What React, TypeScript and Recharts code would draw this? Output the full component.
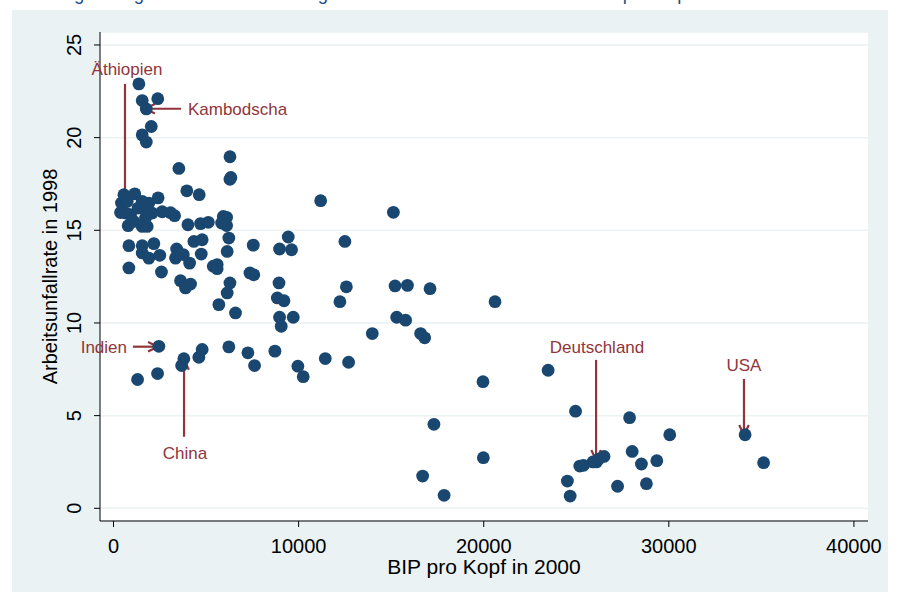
import React from "react";
import {
  ScatterChart,
  Scatter,
  XAxis,
  YAxis,
  CartesianGrid,
  ReferenceLine,
  ReferenceDot,
} from "recharts";

// BIP pro Kopf (2000) und Arbeitsunfallrate (1998)
const gdp = [
  1370, 2390, 1550, 1770, 2040, 1550, 1770, 3530, 6290, 6340, 6290, 3960, 4630,
  560, 1150, 430, 740, 380, 650, 920, 790, 1550, 1910, 1690, 2410, 1730, 1550,
  1820, 2630, 3080, 3300, 1330, 2090, 1100, 4020, 4700, 5120, 5930, 6110, 5840,
  6110, 9440, 830, 1550, 2180, 1550, 1910, 2500, 3410, 3480, 3770, 3350, 4340,
  4790, 4740, 6230, 6140, 7550, 8970, 9620, 830, 2590, 4110, 5390, 5600, 5600,
  7370, 7580, 3620, 4160, 3890, 6290, 6140, 8940, 8850, 9210, 5690, 6590, 8970,
  9710, 9060, 2450, 4790, 4610, 3800, 6230, 7260, 8720, 7620, 9960, 1300, 2380,
  3680, 11190, 15120, 12500, 12580, 12230, 15210, 15880, 17100, 20610, 15300,
  15780, 16590, 16810, 13980, 10250, 11440, 12700, 19960, 17310, 19980, 16700,
  17860, 23480, 24960, 27880, 30050, 34120, 28020, 35120, 26090, 25900, 26500,
  26200, 25190, 25390, 28520, 29350, 24520, 24670, 27230, 28790,
];
const rate = [
  22.9, 22.1, 22.0, 21.55, 20.6, 20.15, 19.76, 18.34, 18.97, 17.85, 17.75,
  17.13, 16.92, 16.92, 16.97, 16.47, 16.56, 15.96, 15.93, 15.84, 15.25, 16.56,
  16.47, 16.11, 16.75, 15.66, 15.21, 15.21, 16.0, 15.95, 15.79, 16.2, 15.93,
  15.48, 15.3, 15.36, 15.43, 15.75, 15.7, 15.39, 15.26, 14.64, 14.17, 14.17,
  14.28, 13.78, 13.5, 13.65, 13.99, 13.78, 13.69, 13.5, 14.4, 14.49, 13.72,
  14.58, 13.86, 14.2, 13.99, 13.95, 12.97, 12.75, 13.23, 13.06, 12.93, 13.15,
  12.7, 12.6, 12.28, 12.1, 11.89, 12.16, 11.62, 12.16, 11.35, 11.2, 10.99,
  10.54, 10.31, 10.31, 9.82, 8.74, 8.57, 8.15, 8.07, 8.71, 8.39, 8.48, 7.7,
  7.67, 6.95, 7.27, 7.7, 16.6, 15.97, 14.4, 11.95, 11.15, 12.0, 12.03, 11.85,
  11.15, 10.31, 10.15, 9.43, 9.2, 9.43, 7.1, 8.08, 7.88, 6.83, 4.53, 2.73, 1.74,
  0.7, 7.45, 5.24, 4.89, 3.97, 3.97, 3.07, 2.46, 2.5, 2.5, 2.8, 2.65, 2.28, 2.32,
  2.39, 2.57, 1.47, 0.66, 1.19, 1.33,
];

const xTicks = [0, 10000, 20000, 30000, 40000];
const yTicks = [0, 5, 10, 15, 20, 25];

// Beschriftungen: Text (Grundlinie) und Pfeil von -> nach
const labels = ["Äthiopien", "Kambodscha", "Indien", "China", "Deutschland", "USA"];
const labelPos = [
  [730, 23.38],
  [4020, 21.2],
  [730, 8.38],
  [3860, 2.67],
  [26120, 8.38],
  [34060, 7.42],
];
const labelAnchor = ["middle", "start", "end", "middle", "middle", "middle"];
const arrowFrom = [
  [620, 22.9],
  [3650, 21.56],
  [1050, 8.72],
  [3810, 3.86],
  [26070, 8.01],
  [34060, 6.98],
];
const arrowTo = [
  [620, 16.37],
  [1700, 21.56],
  [2400, 8.72],
  [3810, 8.01],
  [26070, 2.61],
  [34060, 3.96],
];

const points = gdp.map((x, i) => ({ x, y: rate[i] }));

const FONT = "'Liberation Sans', Arial, sans-serif";
const RED = "#90353b";
const NAVY = "#1a476f";
const BG = "#eaf2f3";

const Arrow = (p: any) => {
  const { x1, y1, x2, y2 } = p;
  const a = Math.atan2(y2 - y1, x2 - x1);
  const L = 11;
  const t = 0.45;
  const h1x = x2 - L * Math.cos(a - t);
  const h1y = y2 - L * Math.sin(a - t);
  const h2x = x2 - L * Math.cos(a + t);
  const h2y = y2 - L * Math.sin(a + t);
  return (
    <g>
      <line x1={x1} y1={y1} x2={x2} y2={y2} stroke={RED} strokeWidth={2.2} />
      <path
        d={`M${h1x},${h1y}L${x2},${y2}L${h2x},${h2y}`}
        fill="none"
        stroke={RED}
        strokeWidth={2.2}
      />
    </g>
  );
};

const YTick = (p: any) => {
  const x = p.x - 11;
  return (
    <text
      x={x}
      y={p.y}
      transform={`rotate(-90, ${x}, ${p.y})`}
      textAnchor="middle"
      fontSize={20}
      fontFamily={FONT}
      fill="#000"
    >
      {p.payload.value}
    </text>
  );
};

export default function App() {
  return (
    <div
      style={{
        position: "absolute",
        left: 0,
        top: 0,
        width: 899,
        height: 592,
        overflow: "hidden",
        background: "#fff",
      }}
    >
      <div
        style={{
          position: "absolute",
          left: 12,
          top: 10,
          width: 876,
          height: 582,
          background: BG,
        }}
      />
      <div
        style={{
          position: "absolute",
          left: 2,
          top: -15.5,
          fontFamily: FONT,
          fontSize: 18.5,
          lineHeight: "18.5px",
          color: "#1f4e8c",
          whiteSpace: "nowrap",
        }}
      >
        Abbildung 1: Negativer Zusammenhang zwischen Arbeitsunfallrate und BIP pro Kopf.
      </div>
      <div style={{ position: "absolute", left: 0, top: 0 }}>
        <ScatterChart
          width={899}
          height={592}
          margin={{ top: 32, right: 31, bottom: 0, left: 0 }}
        >
          <CartesianGrid
            vertical={false}
            stroke={BG}
            strokeWidth={1.5}
            fill="#fff"
          />
          <XAxis
            type="number"
            dataKey="x"
            domain={[-730, 40760]}
            allowDataOverflow
            ticks={xTicks}
            interval={0}
            height={71}
            tickSize={6}
            tickMargin={12}
            stroke="#000"
            tick={{ fontSize: 20, fontFamily: FONT, fill: "#000" }}
            label={{
              value: "BIP pro Kopf in 2000",
              position: "insideBottom",
              offset: 18,
              fontSize: 21,
              fontFamily: FONT,
              fill: "#000",
            }}
          />
          <YAxis
            type="number"
            dataKey="y"
            domain={[-0.685, 25.7]}
            allowDataOverflow
            ticks={yTicks}
            interval={0}
            width={100}
            tickSize={6}
            stroke="#000"
            tick={YTick}
            label={{
              value: "Arbeitsunfallrate in 1998",
              angle: -90,
              position: "center",
              fontSize: 20,
              fontFamily: FONT,
              fill: "#000",
            }}
          />
          <Scatter
            data={points}
            isAnimationActive={false}
            shape={(p: any) => (
              <circle cx={p.cx} cy={p.cy} r={6.4} fill={NAVY} />
            )}
          />
          {labels.map((name, i) => (
            <ReferenceLine
              key={`a-${name}`}
              segment={[
                { x: arrowFrom[i][0], y: arrowFrom[i][1] },
                { x: arrowTo[i][0], y: arrowTo[i][1] },
              ]}
              shape={Arrow}
            />
          ))}
          {labels.map((name, i) => (
            <ReferenceDot
              key={`t-${name}`}
              x={labelPos[i][0]}
              y={labelPos[i][1]}
              r={0}
              shape={(p: any) => (
                <text
                  x={p.cx}
                  y={p.cy}
                  textAnchor={labelAnchor[i] as any}
                  fontSize={17}
                  fontFamily={FONT}
                  fill={RED}
                >
                  {name}
                </text>
              )}
            />
          ))}
        </ScatterChart>
      </div>
    </div>
  );
}
